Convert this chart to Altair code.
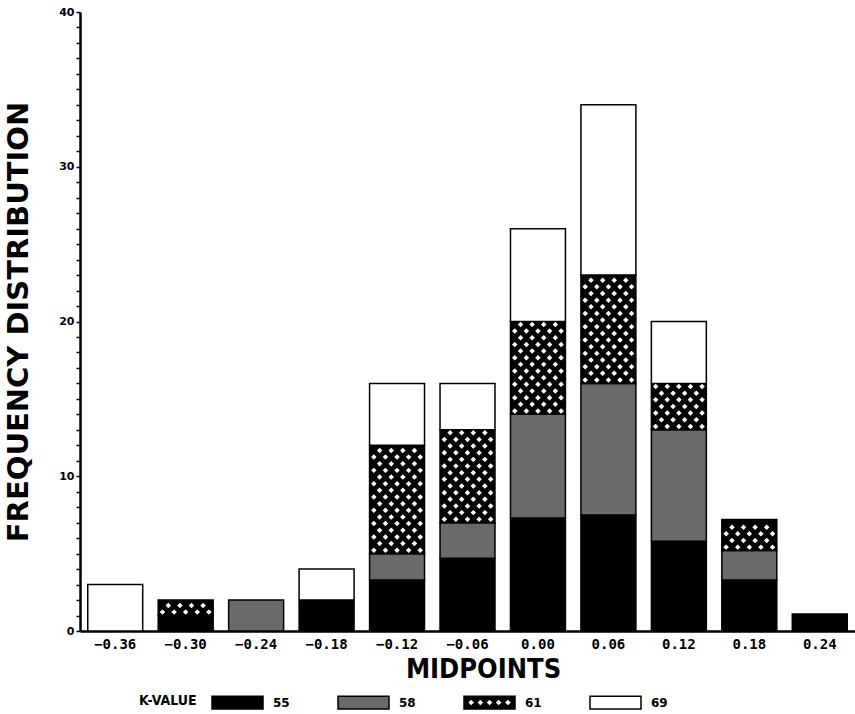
import altair as alt
import pandas as pd

# ---- data ----
midpoints = ["-0.36", "-0.30", "-0.24", "-0.18", "-0.12", "-0.06",
             "0.00", "0.06", "0.12", "0.18", "0.24"]
k_values = ["55", "58", "61", "69"]
k55 = [0, 1, 0, 2, 3.3, 4.7, 7.3, 7.5, 5.8, 3.3, 1.1]
k58 = [0, 0, 2, 0, 1.7, 2.3, 6.7, 8.5, 7.2, 1.9, 0]
k61 = [0, 1, 0, 0, 7, 6, 6, 7, 3, 2, 0]
k69 = [3, 0, 0, 2, 4, 3, 6, 11, 4, 0, 0]
y_ticks = list(range(0, 41))

# ---- stacked table ----
rows = []
for i, m in enumerate(midpoints):
    base = 0.0
    for k, vals in zip(k_values, [k55, k58, k61, k69]):
        v = vals[i]
        if v > 0:
            rows.append({"mid": m, "idx": i, "k": k, "y0": base, "y1": base + v})
        base += v
df = pd.DataFrame(rows)

# white diamond "crosshatch" pattern inside the K=61 segments
COL_STEP = 0.0823  # pattern column spacing, in units of one bar slot
dots = []
for r in rows:
    if r["k"] != "61":
        continue
    yv = r["y0"] + 0.22
    n = 0
    while yv < r["y1"] - 0.12:
        cols = [0, 2, 4, 6, 8] if n % 2 == 0 else [1, 3, 5, 7]
        for c in cols:
            dots.append({"xpos": r["idx"] + (c - 4) * COL_STEP, "y1": yv})
        yv += 0.43
        n += 1
dots_df = pd.DataFrame(dots)

# legend swatch shapes (outer rectangle; holes wound the other way)
rect_path = "M-1,-0.25H1V0.25H-1Z"
hatch_path = rect_path + "".join(
    f"M{cx},-0.15L{cx - 0.15},0L{cx},0.15L{cx + 0.15},0Z"
    for cx in [-0.72, -0.36, 0, 0.36, 0.72]
)

COND = "'DejaVu Sans Condensed', 'DejaVu Sans', sans-serif"

x_scale = alt.Scale(type="band", paddingInner=0.22, paddingOuter=0.11)
y_scale = alt.Scale(domain=[0, 40], nice=False)

x_axis = alt.Axis(
    title="MIDPOINTS", labelAngle=0, ticks=False,
    labelExpr="replace(datum.label, '-', '\u2212')",
    labelFont="DejaVu Sans Mono", labelFontWeight="bold", labelFontSize=14,
    labelPadding=6, labelColor="black",
    titleFont=COND, titleFontWeight="bold", titleFontSize=27,
    titlePadding=5, titleX=403, titleAlign="center", titleColor="black",
    domainColor="black", domainWidth=2.5,
)
y_axis = alt.Axis(
    title="FREQUENCY DISTRIBUTION", values=y_ticks, grid=False,
    labelExpr="datum.value % 10 == 0 ? datum.label : ''",
    labelFont="DejaVu Sans", labelFontWeight="bold", labelFontSize=11,
    labelPadding=2, labelColor="black",
    tickSize=4, tickColor="black", tickWidth=1.5,
    titleFont="DejaVu Sans", titleFontWeight="bold", titleFontSize=29,
    titleX=-47, titleColor="black",
    domainColor="black", domainWidth=2.5,
)

legend = alt.Legend(
    title="K-VALUE", orient="none", legendX=59, legendY=664,
    direction="horizontal", titleOrient="left",
    symbolSize=2601, symbolStrokeWidth=1.5, symbolOpacity=1,
    labelOffset=9, columnPadding=45, titlePadding=14,
    labelFont="DejaVu Sans", labelFontWeight="bold", labelFontSize=12, labelColor="black",
    titleFont=COND, titleFontWeight="bold", titleFontSize=14,
    titleColor="black", titleBaseline="top",
)

color_enc = alt.Color(
    "k:N",
    scale=alt.Scale(domain=k_values,
                    range=["#000000", "#6a6a6a", "#000000", "#ffffff"]),
    legend=legend,
)

x_enc = alt.X("mid:N", sort=midpoints, scale=x_scale, axis=x_axis)
y_enc = alt.Y("y1:Q", scale=y_scale, axis=y_axis)

bars = alt.Chart(df).mark_bar(stroke="black", strokeWidth=1.5).encode(
    x=x_enc, y=y_enc, y2="y0:Q", color=color_enc,
)

# invisible layer that only feeds the legend its swatch shapes and outlines
legend_src = alt.Chart(df).mark_point(filled=True, opacity=0).encode(
    x=alt.X("mid:N", sort=midpoints, axis=None),
    y=y_enc,
    color=color_enc,
    shape=alt.Shape(
        "k:N",
        scale=alt.Scale(domain=k_values,
                        range=[rect_path, rect_path, hatch_path, rect_path]),
        legend=legend,
    ),
    stroke=alt.Stroke(
        "k:N",
        scale=alt.Scale(domain=k_values,
                        range=["#000000", "#000000", "#000000", "#000000"]),
        legend=legend,
    ),
)

pattern = alt.Chart(dots_df).mark_point(
    shape="diamond", filled=True, color="white", size=30, opacity=1
).encode(
    x=alt.X("xpos:Q", scale=alt.Scale(domain=[-0.5, len(midpoints) - 0.5],
                                      nice=False, zero=False), axis=None),
    y=y_enc,
)

chart = alt.layer(bars, pattern, legend_src).resolve_scale(
    x="independent"
).properties(
    width=775, height=619,
    padding={"left": 80, "top": 12, "right": 0, "bottom": 83},
    autosize="none",
    background="white",
).configure_view(stroke=None)

chart.save("out.html", embed_options={"renderer": "svg", "actions": False})
